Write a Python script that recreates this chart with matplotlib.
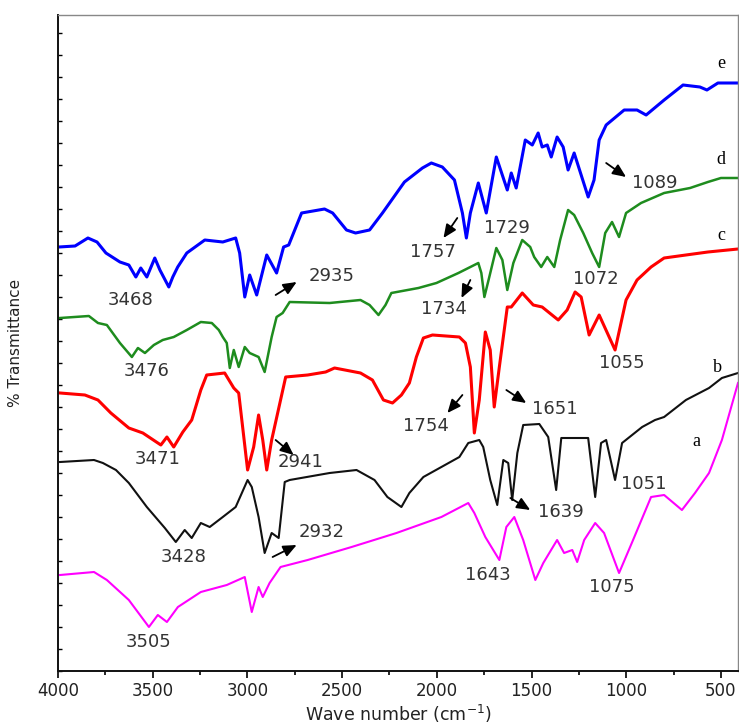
import matplotlib.pyplot as plt
from matplotlib.ticker import MultipleLocator, NullFormatter

# FTIR spectra, wavenumber (cm-1) vs offset transmittance (arbitrary units)
e_wn = [3995, 3910, 3842, 3794, 3747, 3673, 3626, 3589, 3563, 3531, 3489, 3462, 3415, 3394,
        3368, 3320, 3225, 3130, 3062, 3041, 3014, 2988, 2951, 2898, 2846, 2809, 2782, 2714,
        2593, 2550, 2477, 2429, 2355, 2287, 2171, 2076, 2029, 1971, 1907, 1865, 1844, 1823,
        1781, 1739, 1686, 1628, 1607, 1581, 1533, 1496, 1465, 1444, 1417, 1396, 1365, 1333,
        1307, 1275, 1201, 1170, 1143, 1106, 1011, 943, 895, 800, 700, 611, 574, 516, 410]
e_t = [424, 425, 433, 429, 418, 409, 406, 394, 403, 394, 413, 401, 384, 394,
       404, 418, 431, 429, 433, 418, 374, 396, 376, 416, 398, 424, 426, 458,
       462, 458, 441, 438, 441, 458, 489, 503, 508, 504, 491, 458, 433, 458,
       488, 458, 514, 481, 498, 483, 531, 526, 538, 524, 526, 514, 534, 524,
       501, 518, 474, 491, 531, 546, 561, 561, 556, 571, 586, 584, 581, 588, 588]

d_wn = [3989, 3837, 3789, 3742, 3673, 3610, 3578, 3541, 3494, 3447, 3389, 3320, 3246, 3188,
        3151, 3130, 3109, 3093, 3072, 3046, 3014, 2988, 2941, 2909, 2872, 2846, 2814, 2777,
        2566, 2403, 2355, 2308, 2271, 2240, 2097, 2002, 1886, 1781, 1765, 1749, 1723, 1686,
        1654, 1628, 1596, 1549, 1507, 1486, 1449, 1417, 1380, 1349, 1307, 1275, 1227, 1180,
        1143, 1111, 1075, 1038, 1001, 922, 800, 663, 569, 500, 410]
d_t = [353, 355, 348, 346, 328, 314, 323, 318, 326, 331, 334, 341, 349, 348,
       341, 334, 328, 303, 321, 304, 324, 318, 314, 299, 334, 354, 358, 369,
       368, 371, 366, 356, 366, 378, 383, 388, 398, 408, 398, 374, 394, 423,
       411, 381, 408, 431, 424, 414, 404, 414, 404, 431, 461, 456, 438, 418,
       404, 438, 449, 434, 458, 468, 478, 483, 489, 493, 493]

c_wn = [3989, 3858, 3789, 3721, 3626, 3552, 3457, 3425, 3389, 3341, 3294, 3246, 3215, 3120,
        3072, 3046, 2999, 2967, 2941, 2919, 2898, 2872, 2798, 2682, 2587, 2540, 2403, 2340,
        2282, 2234, 2187, 2145, 2108, 2071, 2023, 1881, 1849, 1823, 1802, 1776, 1744, 1718,
        1697, 1670, 1628, 1607, 1549, 1491, 1444, 1359, 1312, 1270, 1238, 1196, 1143, 1059,
        1001, 943, 869, 800, 685, 569, 410]
c_t = [278, 276, 271, 258, 243, 238, 226, 234, 224, 239, 251, 281, 296, 298,
       283, 278, 201, 224, 256, 231, 201, 231, 294, 296, 299, 303, 298, 291,
       271, 268, 276, 288, 314, 333, 336, 334, 328, 304, 238, 271, 339, 321,
       264, 304, 364, 364, 378, 366, 364, 351, 361, 379, 374, 336, 356, 321,
       371, 391, 404, 413, 416, 419, 422]

b_wn = [3989, 3810, 3763, 3694, 3626, 3531, 3436, 3378, 3331, 3294, 3246, 3199, 3130, 3062,
        2999, 2977, 2941, 2909, 2872, 2835, 2803, 2777, 2566, 2424, 2329, 2261, 2187, 2145,
        2071, 1976, 1881, 1834, 1776, 1755, 1718, 1681, 1649, 1623, 1602, 1575, 1544, 1459,
        1412, 1370, 1343, 1201, 1164, 1133, 1106, 1059, 1022, 916, 848, 800, 685, 563, 495, 410]
b_t = [209, 211, 208, 201, 188, 164, 143, 129, 141, 133, 148, 144, 154, 164,
       191, 184, 154, 118, 138, 133, 189, 191, 198, 201, 191, 174, 164, 178,
       194, 204, 214, 228, 231, 224, 191, 166, 211, 208, 171, 218, 246, 247,
       234, 181, 233, 233, 174, 228, 231, 191, 228, 244, 251, 254, 271, 283, 293, 298]

a_wn = [3989, 3810, 3742, 3626, 3520, 3473, 3425, 3367, 3246, 3109, 3014, 2977, 2941, 2919,
        2883, 2825, 2682, 2450, 2213, 1976, 1834, 1802, 1744, 1670, 1633, 1591, 1544, 1480,
        1438, 1365, 1328, 1285, 1259, 1222, 1164, 1117, 1038, 964, 869, 800, 706, 637, 563,
        495, 410]
a_t = [96, 99, 91, 71, 44, 56, 49, 64, 79, 86, 94, 59, 84, 74,
       88, 104, 111, 124, 138, 154, 168, 158, 134, 111, 144, 154, 131, 91,
       108, 131, 118, 121, 109, 131, 148, 138, 98, 131, 174, 176, 161, 178, 198,
       231, 288]

series = [
    ("a", a_wn, a_t, "#ff00ff", 1.5),
    ("b", b_wn, b_t, "#111111", 1.5),
    ("c", c_wn, c_t, "#ff0000", 2.2),
    ("d", d_wn, d_t, "#1e8c1e", 1.8),
    ("e", e_wn, e_t, "#0000ff", 2.2),
]

fig = plt.figure(figsize=(7.39, 7.26), dpi=100)
ax = fig.add_axes([58 / 739, 55 / 726, 680 / 739, 656 / 726])

for name, wn, t, col, lw in series:
    ax.plot(wn, t, color=col, lw=lw, solid_joinstyle="round")

ax.set_xlim(4000, 410)
ax.set_ylim(0, 656)

# curve letters
letters = [("e", 500, 608), ("d", 500, 511), ("c", 500, 436), ("b", 516, 304), ("a", 632, 229)]
for s, x, y in letters:
    ax.text(x, y, s, fontsize=13, family="Liberation Serif", ha="center", va="center")

# peak labels (text, x, y)
labels = [("3468", 3615, 371), ("2935", 2556, 395), ("1757", 2023, 419), ("1729", 1628, 443),
          ("1734", 1965, 362), ("1072", 1159, 392), ("1089", 848, 488), ("3476", 3531, 300),
          ("1055", 1022, 308), ("3471", 3473, 212), ("2941", 2719, 209), ("1754", 2060, 245),
          ("1651", 1375, 262), ("1051", 906, 187), ("1639", 1343, 159), ("3428", 3336, 114),
          ("2932", 2608, 139), ("1643", 1728, 96), ("1075", 1075, 84), ("3505", 3520, 29)]
for s, x, y in labels:
    ax.text(x, y, s, fontsize=13, color="#333333", ha="center", va="center")

# arrows (tail x, tail y, head x, head y)
arrows = [(2851, 376, 2740, 389), (1892, 453, 1965, 433), (1823, 391, 1870, 373),
          (1106, 508, 1001, 494), (2851, 231, 2756, 216), (1865, 276, 1944, 258),
          (1633, 281, 1528, 268), (1612, 173, 1507, 161), (2867, 114, 2740, 126)]
for x0, y0, x1, y1 in arrows:
    ax.annotate("", xy=(x1, y1), xytext=(x0, y0),
                arrowprops=dict(arrowstyle="-|>,head_width=0.35,head_length=0.8",
                                color="black", lw=1.3, shrinkA=0, shrinkB=0))

ax.xaxis.set_major_locator(MultipleLocator(500))
ax.xaxis.set_minor_locator(MultipleLocator(250))
ax.yaxis.set_major_locator(MultipleLocator(22))
ax.yaxis.set_major_formatter(NullFormatter())
ax.tick_params(axis="x", which="major", direction="out", length=5, width=1.2,
               labelsize=12, labelcolor="#222222", pad=3)
ax.tick_params(axis="x", which="minor", direction="out", length=3, width=1.2)
ax.tick_params(axis="y", which="major", direction="in", length=3, width=1)
ax.xaxis.set_major_formatter(plt.FuncFormatter(lambda v, p: f"{int(v)}"))

for side in ["left", "bottom"]:
    ax.spines[side].set_linewidth(1.4)
    ax.spines[side].set_color("#111111")
for side in ["top", "right"]:
    ax.spines[side].set_linewidth(1.0)
    ax.spines[side].set_color("#888888")

ax.set_xlabel("Wave number (cm$^{-1}$)", fontsize=12.5, color="#222222", labelpad=2)
ax.set_ylabel("% Transmittance", fontsize=11, color="#222222", labelpad=22)

fig.savefig("out.png", dpi=100)
